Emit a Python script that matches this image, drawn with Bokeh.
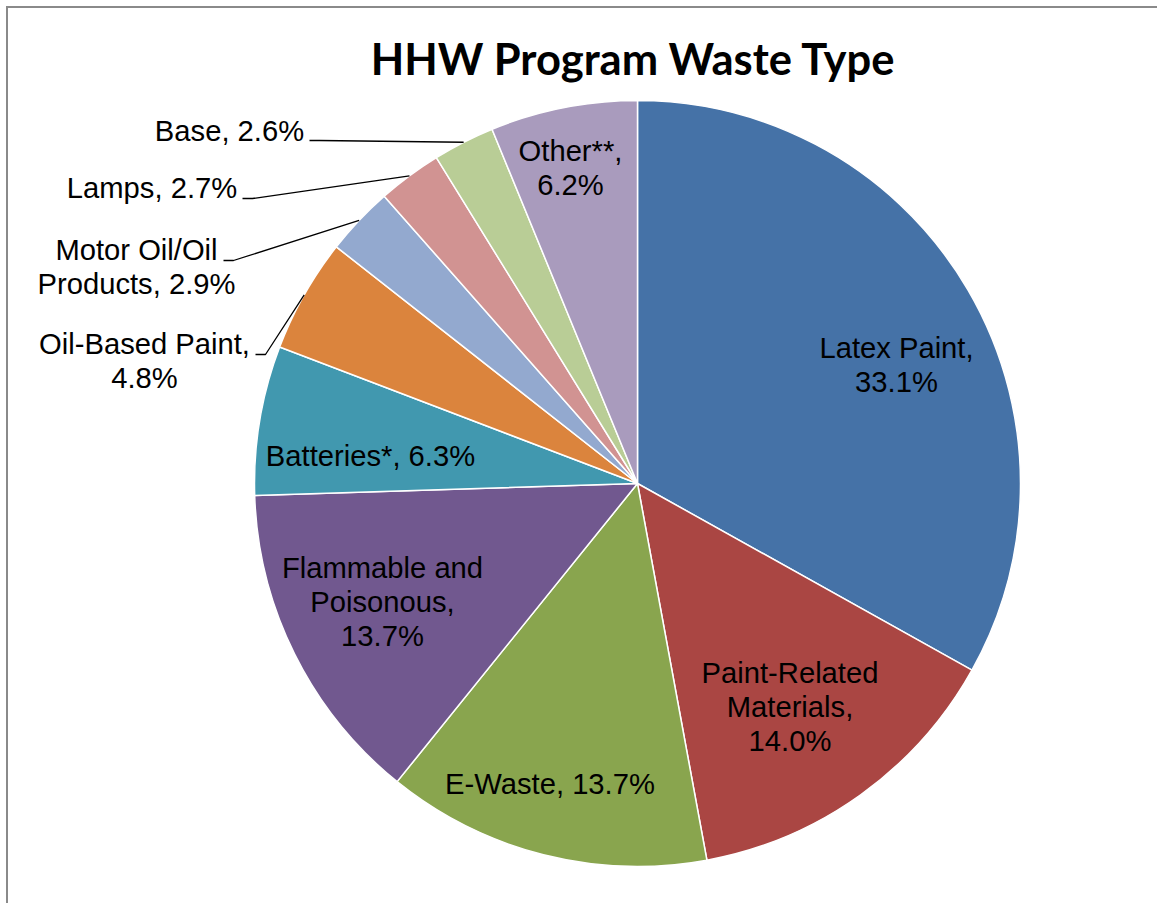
import math
from bokeh.plotting import figure
from bokeh.models import Range1d, ColumnDataSource
from bokeh.core.properties import value
from bokeh.embed import file_html
from bokeh.resources import INLINE

# ---- data ----
categories = ["Latex Paint", "Paint-Related Materials", "E-Waste", "Flammable and Poisonous",
              "Batteries*", "Oil-Based Paint", "Motor Oil/Oil Products", "Lamps", "Base", "Other**"]
percents = [33.1, 14.0, 13.7, 13.7, 6.3, 4.8, 2.9, 2.7, 2.6, 6.2]
labels = ["Latex Paint,\n33.1%", "Paint-Related\nMaterials,\n14.0%", "E-Waste, 13.7%",
          "Flammable and\nPoisonous,\n13.7%", "Batteries*, 6.3%", "Oil-Based Paint,\n4.8%",
          "Motor Oil/Oil\nProducts, 2.9%", "Lamps, 2.7%", "Base, 2.6%", "Other**,\n6.2%"]
colors = ["#4572A7", "#AA4643", "#89A54E", "#71588F", "#4198AF",
          "#DB843D", "#93A9CF", "#D19392", "#B9CD96", "#A99BBD"]
title_text = "HHW Program Waste Type"

# ---- layout (reference pixel coordinates) ----
W, H = 1157, 903
def sx(ix): return ix
def sy(iy): return H - iy

CX, CY, R = sx(637), sy(483), 383
LABEL_SIZE = 29.2
TITLE_SIZE = 43.5
LABEL_SHIFT = 10   # baseline correction
TITLE_SHIFT = 15.5
# label anchors: (center x, first baseline y)
label_pos = [(896, 357), (789.5, 682), (549.5, 793), (382, 577), (370, 465),
             (144, 353), (136, 259), (151.5, 197), (229, 140), (570, 160)]
LINE_STEP = 34.3
# leader start points (only for outside labels)
leader_start = {5: (255, 354), 6: (223, 260), 7: (242, 198), 8: (309, 140)}

p = figure(width=W, height=H, output_backend="svg", toolbar_location=None,
           x_range=Range1d(0, W), y_range=Range1d(0, H), min_border=0,
           background_fill_color="white", border_fill_color="white")
p.axis.visible = False
p.grid.visible = False
p.outline_line_color = None

# wedges
total = sum(percents)
starts, ends, mids = [], [], []
cum = 0.0
for v in percents:
    a0 = cum / total
    cum += v
    a1 = cum / total
    starts.append(math.pi / 2 - 2 * math.pi * a1)
    ends.append(math.pi / 2 - 2 * math.pi * a0)
    mids.append(2 * math.pi * (a0 + a1) / 2)  # clockwise from top
src = ColumnDataSource(dict(start=starts, end=ends, color=colors, cat=categories))
p.wedge(x=CX, y=CY, radius=R, start_angle="start", end_angle="end", direction="anticlock",
        fill_color="color", line_color="white", line_width=1.5, source=src)

# labels
tx, ty, tt = [], [], []
for lab, (lx, ly) in zip(labels, label_pos):
    for k, line in enumerate(lab.split("\n")):
        tx.append(sx(lx)); ty.append(sy(ly + k * LINE_STEP - LABEL_SHIFT)); tt.append(line)
p.text(x=tx, y=ty, text=tt, text_align="center", text_baseline="alphabetic",
       text_font=value("Liberation Sans"), text_font_size=f"{LABEL_SIZE}px", text_color="black")

# leader lines
for i, (x0, y0) in leader_start.items():
    ex = CX + R * math.sin(mids[i])
    ey = CY + R * math.cos(mids[i])
    p.line(x=[sx(x0), sx(x0) + 10, ex], y=[sy(y0), sy(y0), ey],
           line_color="black", line_width=1.3)

# title
p.text(x=[sx(633)], y=[sy(73 - TITLE_SHIFT)], text=[title_text], text_align="center",
       text_baseline="alphabetic", text_font=value("Lato"), text_font_style="bold",
       text_font_size=f"{TITLE_SIZE}px", text_color="black")

# chart frame (left and top edges)
p.line(x=[sx(6.5), sx(6.5)], y=[0, sy(5.5)], line_color="#8a8a8a", line_width=2)
p.line(x=[sx(5.5), W], y=[sy(6.5), sy(6.5)], line_color="#8a8a8a", line_width=2)

open("out.html", "w").write(file_html(p, INLINE))
